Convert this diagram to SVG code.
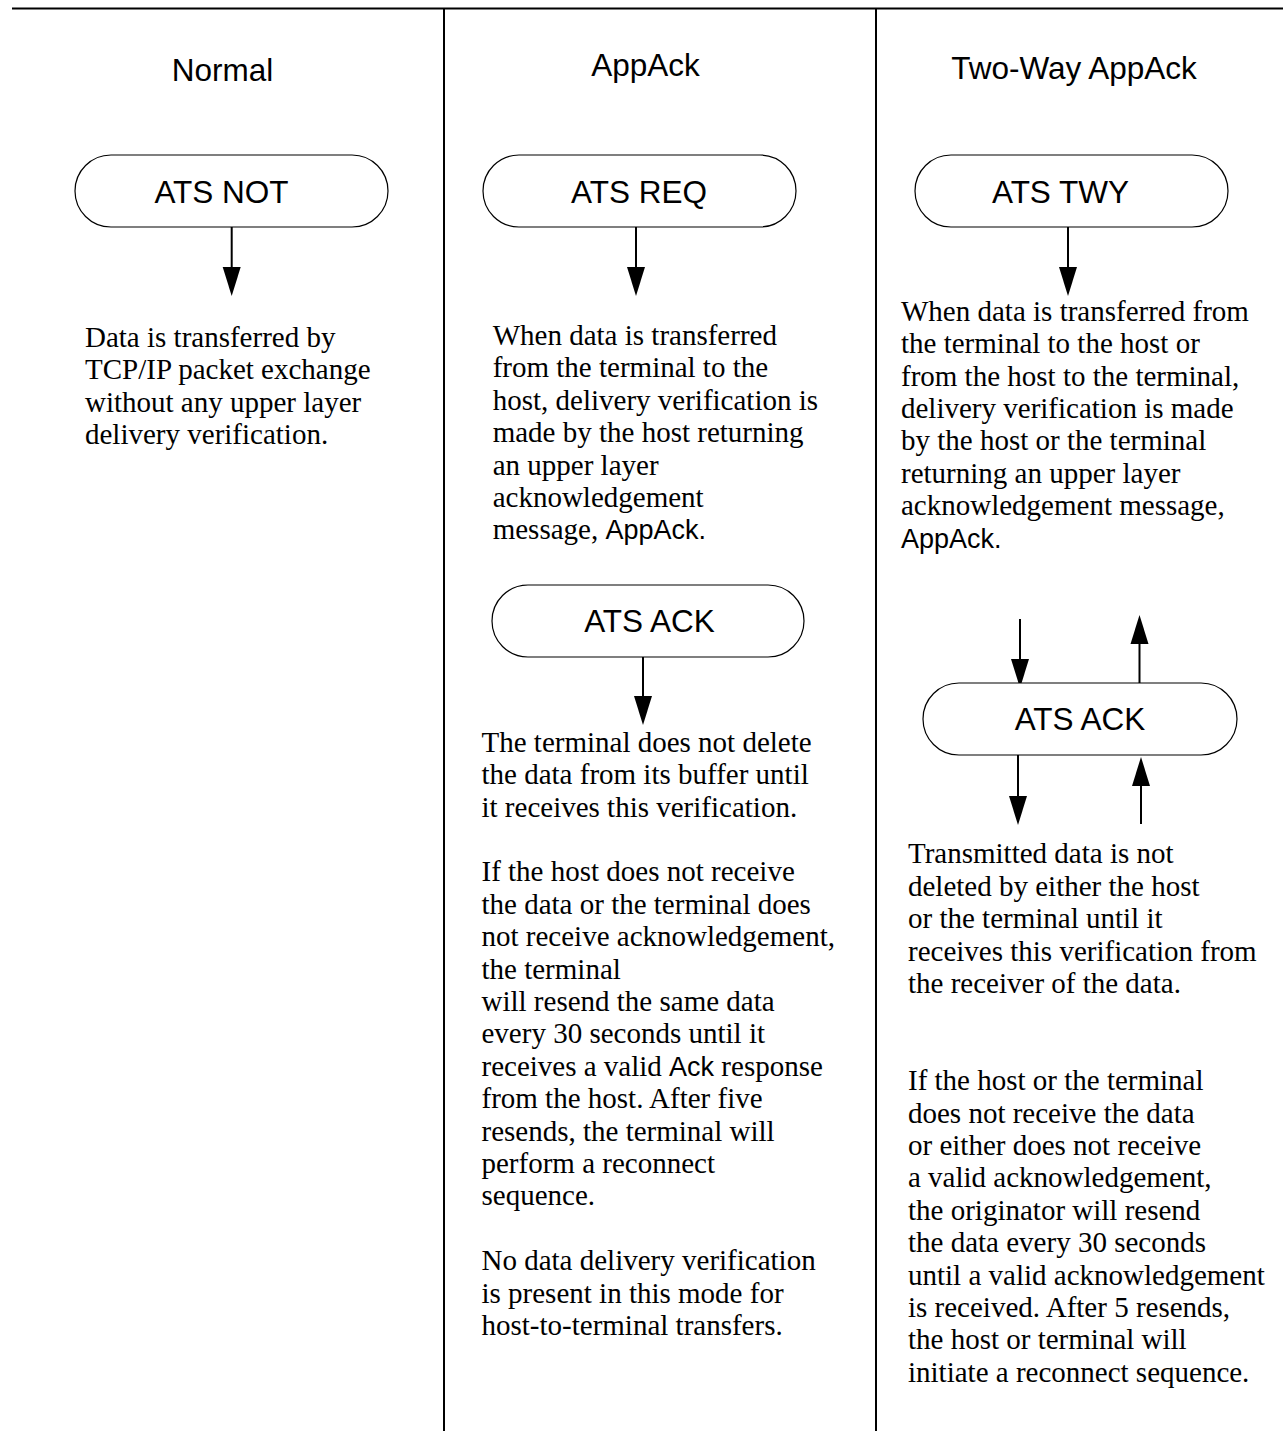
<svg xmlns="http://www.w3.org/2000/svg" width="1283" height="1431" viewBox="0 0 1283 1431">
  <style>
    .frame { stroke: #000; stroke-width: 2; fill: none; }
    .pill { fill: #fff; stroke: #000; stroke-width: 1.2; }
    .head { font-family: "Liberation Sans", Arial, sans-serif; font-size: 31.5px; fill: #000; text-anchor: middle; }
    .label { font-family: "Liberation Sans", Arial, sans-serif; font-size: 31.5px; fill: #000; text-anchor: middle; }
    .body { font-family: "Liberation Serif", "Times New Roman", serif; font-size: 29px; fill: #000; }
    .sans { font-family: "Liberation Sans", Arial, sans-serif; font-size: 27px; }
    .conn { stroke: #000; stroke-width: 2; fill: none; marker-end: url(#arrow); }
  </style>
  <defs>
    <marker id="arrow" markerUnits="userSpaceOnUse" markerWidth="30" markerHeight="20" viewBox="0 -10 30 20" refX="0" refY="0" orient="auto">
      <path d="M0,-9 L29,0 L0,9 Z" fill="#000"/>
    </marker>
  </defs>

  <rect width="1283" height="1431" fill="#fff"/>

  <!-- page frame: top rule and column dividers -->
  <g id="frame">
    <line class="frame" x1="12" y1="8.5" x2="1283" y2="8.5"/>
    <line class="frame" x1="444" y1="8" x2="444" y2="1431"/>
    <line class="frame" x1="876" y1="8" x2="876" y2="1431"/>
  </g>

  <!-- column headings -->
  <g id="headings">
    <text class="head" x="222.5" y="81">Normal</text>
    <text class="head" x="645.5" y="76">AppAck</text>
    <text class="head" x="1074" y="79">Two-Way AppAck</text>
  </g>

  <!-- connectors -->
  <g id="connectors">
    <line class="conn" x1="231.7" y1="227" x2="231.7" y2="267"/>
    <line class="conn" x1="636" y1="227" x2="636" y2="267"/>
    <line class="conn" x1="1068" y1="227" x2="1068" y2="267"/>
    <line class="conn" x1="643" y1="657" x2="643" y2="696"/>
    <line class="conn" x1="1020" y1="619" x2="1020" y2="659"/>
    <line class="conn" x1="1139.5" y1="683" x2="1139.5" y2="644"/>
    <line class="conn" x1="1018" y1="755" x2="1018" y2="796"/>
    <line class="conn" x1="1141" y1="824" x2="1141" y2="786"/>
  </g>

  <!-- nodes -->
  <g id="node-ats-not">
    <rect class="pill" x="75" y="155" width="313" height="72" rx="36" ry="36"/>
    <text class="label" x="221.5" y="203">ATS NOT</text>
  </g>
  <g id="node-ats-req">
    <rect class="pill" x="483" y="155" width="313" height="72" rx="36" ry="36"/>
    <text class="label" x="639" y="203">ATS REQ</text>
  </g>
  <g id="node-ats-twy">
    <rect class="pill" x="915" y="155" width="313" height="72" rx="36" ry="36"/>
    <text class="label" x="1060.5" y="203">ATS TWY</text>
  </g>
  <g id="node-ats-ack">
    <rect class="pill" x="492" y="585" width="312" height="72" rx="36" ry="36"/>
    <text class="label" x="649.5" y="632">ATS ACK</text>
  </g>
  <g id="node-ats-ack-twoway">
    <rect class="pill" x="923" y="683" width="314" height="72" rx="36" ry="36"/>
    <text class="label" x="1080" y="730">ATS ACK</text>
  </g>

  <!-- descriptions -->
  <g id="text-normal">
    <text class="body" x="85" y="347">
      <tspan x="85" dy="0">Data is transferred by</tspan>
      <tspan x="85" dy="32.4">TCP/IP packet exchange</tspan>
      <tspan x="85" dy="32.4">without any upper layer</tspan>
      <tspan x="85" dy="32.4">delivery verification.</tspan>
    </text>
  </g>

  <g id="text-appack-req">
    <text class="body" x="492.7" y="345">
      <tspan x="492.7" dy="0">When data is transferred</tspan>
      <tspan x="492.7" dy="32.4">from the terminal to the</tspan>
      <tspan x="492.7" dy="32.4">host, delivery verification is</tspan>
      <tspan x="492.7" dy="32.4">made by the host returning</tspan>
      <tspan x="492.7" dy="32.4">an upper layer</tspan>
      <tspan x="492.7" dy="32.4">acknowledgement</tspan>
      <tspan x="492.7" dy="32.4">message, <tspan class="sans">AppAck.</tspan></tspan>
    </text>
  </g>

  <g id="text-appack-ack">
    <text class="body" x="481.5" y="751.7">
      <tspan x="481.5" dy="0">The terminal does not delete</tspan>
      <tspan x="481.5" dy="32.4">the data from its buffer until</tspan>
      <tspan x="481.5" dy="32.4">it receives this verification.</tspan>
      <tspan x="481.5" dy="64.8">If the host does not receive</tspan>
      <tspan x="481.5" dy="32.4">the data or the terminal does</tspan>
      <tspan x="481.5" dy="32.4">not receive acknowledgement,</tspan>
      <tspan x="481.5" dy="32.4">the terminal</tspan>
      <tspan x="481.5" dy="32.4">will resend the same data</tspan>
      <tspan x="481.5" dy="32.4">every 30 seconds until it</tspan>
      <tspan x="481.5" dy="32.4">receives a valid <tspan class="sans">Ack</tspan> response</tspan>
      <tspan x="481.5" dy="32.4">from the host. After five</tspan>
      <tspan x="481.5" dy="32.4">resends, the terminal will</tspan>
      <tspan x="481.5" dy="32.4">perform a reconnect</tspan>
      <tspan x="481.5" dy="32.4">sequence.</tspan>
      <tspan x="481.5" dy="64.8">No data delivery verification</tspan>
      <tspan x="481.5" dy="32.4">is present in this mode for</tspan>
      <tspan x="481.5" dy="32.4">host-to-terminal transfers.</tspan>
    </text>
  </g>

  <g id="text-twoway-twy">
    <text class="body" x="901" y="320.7">
      <tspan x="901" dy="0">When data is transferred from</tspan>
      <tspan x="901" dy="32.4">the terminal to the host or</tspan>
      <tspan x="901" dy="32.4">from the host to the terminal,</tspan>
      <tspan x="901" dy="32.4">delivery verification is made</tspan>
      <tspan x="901" dy="32.4">by the host or the terminal</tspan>
      <tspan x="901" dy="32.4">returning an upper layer</tspan>
      <tspan x="901" dy="32.4">acknowledgement message,</tspan>
      <tspan x="901" dy="32.4" class="sans">AppAck.</tspan>
    </text>
  </g>

  <g id="text-twoway-ack">
    <text class="body" x="908" y="863.3">
      <tspan x="908" dy="0">Transmitted data is not</tspan>
      <tspan x="908" dy="32.4">deleted by either the host</tspan>
      <tspan x="908" dy="32.4">or the terminal until it</tspan>
      <tspan x="908" dy="32.4">receives this verification from</tspan>
      <tspan x="908" dy="32.4">the receiver of the data.</tspan>
      <tspan x="908" dy="97.2">If the host or the terminal</tspan>
      <tspan x="908" dy="32.4">does not receive the data</tspan>
      <tspan x="908" dy="32.4">or either does not receive</tspan>
      <tspan x="908" dy="32.4">a valid acknowledgement,</tspan>
      <tspan x="908" dy="32.4">the originator will resend</tspan>
      <tspan x="908" dy="32.4">the data every 30 seconds</tspan>
      <tspan x="908" dy="32.4">until a valid acknowledgement</tspan>
      <tspan x="908" dy="32.4">is received. After 5 resends,</tspan>
      <tspan x="908" dy="32.4">the host or terminal will</tspan>
      <tspan x="908" dy="32.4">initiate a reconnect sequence.</tspan>
    </text>
  </g>
</svg>
